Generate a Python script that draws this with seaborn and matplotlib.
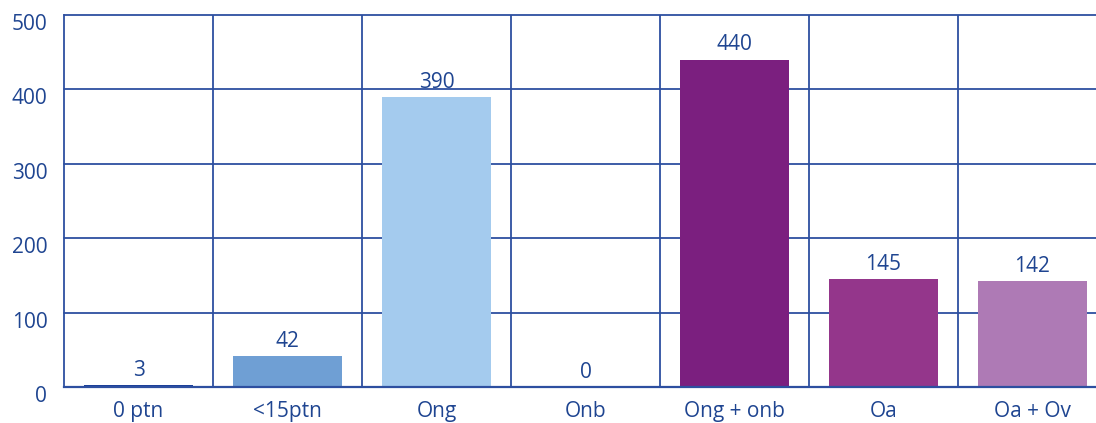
import matplotlib
matplotlib.use("Agg")
import matplotlib.pyplot as plt
import matplotlib.transforms as mtransforms
import seaborn as sns
import pandas as pd

categories = ["0 ptn", "<15ptn", "Ong", "Onb", "Ong + onb", "Oa", "Oa + Ov"]
values = [3, 42, 390, 0, 440, 145, 142]
colors = ["#1a3f99", "#6f9fd4", "#a4cbee", "#1a3f99", "#7b1f7f", "#94368b", "#ae7ab5"]
yticks = [0, 100, 200, 300, 400, 500]

text_color = "#1f4591"
grid_color = "#2d4fa0"

sns.set_theme(style="white")
plt.rcParams["font.family"] = ["Open Sans", "DejaVu Sans"]

df = pd.DataFrame({"cat": categories, "val": values})

fig = plt.figure(figsize=(10.96, 4.23), dpi=100)
ax = fig.add_axes([64/1096, 1 - 387/423, 1043/1096, (387 - 15)/423])

sns.barplot(data=df, x="cat", y="val", hue="cat", palette=colors, legend=False,
            width=0.725, ax=ax, saturation=1, linewidth=0, edgecolor="none")

ax.set_ylim(0, 500)
ax.set_xlim(-0.5, len(categories) - 0.5)
ax.set_yticks(yticks)
ax.set_yticklabels([str(t) for t in yticks])

for y in yticks[1:]:
    ax.axhline(y, color=grid_color, lw=1.3, zorder=0, clip_on=False)
for i in range(1, len(categories)):
    ax.axvline(i - 0.5, color=grid_color, lw=1.3, zorder=0)

for s in ["top", "right"]:
    ax.spines[s].set_visible(False)
ax.spines["left"].set_color(grid_color)
ax.spines["bottom"].set_color(grid_color)
ax.spines["left"].set_linewidth(1.3)
ax.spines["bottom"].set_linewidth(1.6)

for i, v in enumerate(values):
    ax.annotate(str(v), (i, v), xytext=(0, 3), textcoords="offset points",
                ha="center", va="bottom", color=text_color, fontsize=15,
                fontweight="medium")

ax.set_xlabel("")
ax.set_ylabel("")
ax.tick_params(axis="both", colors=text_color, labelsize=15, length=0)
ax.tick_params(axis="x", pad=10)
ax.tick_params(axis="y", pad=12)
offset = mtransforms.ScaledTranslation(0, -7/100, fig.dpi_scale_trans)
for lbl in ax.get_yticklabels():
    lbl.set_transform(lbl.get_transform() + offset)
for lbl in ax.get_xticklabels() + ax.get_yticklabels():
    lbl.set_color(text_color)
    lbl.set_fontweight("medium")

fig.savefig("out.png", dpi=100)
